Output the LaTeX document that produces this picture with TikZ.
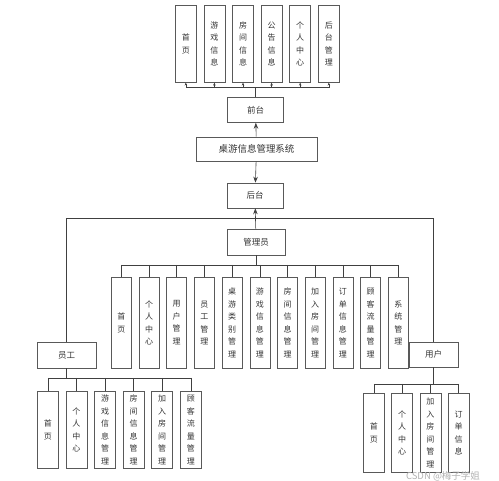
\documentclass[tikz,border=0pt]{standalone}
\usepackage{fontspec}
\newfontfamily\cjk{Noto Sans CJK SC}
\usetikzlibrary{calc, positioning, arrows.meta}

\begin{document}
\begin{tikzpicture}[x=1pt, y=-1pt, >={Stealth[length=6pt, width=4.5pt]}, node distance=7pt,
  box/.style={draw=black!65, line width=0.6pt, inner sep=0pt, text=black!80, font=\cjk\fontsize{8.5}{9}\selectfont},
  vbox/.style={box, minimum width=21pt, minimum height=77pt, align=center, font=\cjk\fontsize{8}{12.5}\selectfont},
  hbox/.style={box, minimum width=56pt, minimum height=25pt},
  link/.style={draw=black!75, line width=0.6pt}]
  \useasboundingbox (0,0) rectangle (499,481);

  % Front end and its pages
  \node[vbox, anchor=north west] (f1) at (175,5) {首\\页};
  \node[vbox, right=of f1] (f2) {游\\戏\\信\\息};
  \node[vbox, right=of f2] (f3) {房\\间\\信\\息};
  \node[vbox, right=of f3] (f4) {公\\告\\信\\息};
  \node[vbox, right=of f4] (f5) {个\\人\\中\\心};
  \node[vbox, right=of f5] (f6) {后\\台\\管\\理};
  \node[hbox] (front) at (255.5,110) {前台};

  % System root
  \node[box, minimum width=121pt, minimum height=24pt, font=\cjk\fontsize{9.5}{11}\selectfont] (sys) at (256.5,149) {桌游信息管理系统};

  % Back end
  \node[hbox] (back) at (255,195.5) {后台};
  \node[hbox, minimum width=58pt, minimum height=26pt] (admin) at (256,242) {管理员};

  % Admin pages
  \node[vbox, minimum width=20pt, minimum height=91pt, anchor=north west] (a1) at (111,277) {首\\页};
  \node[vbox, minimum width=20pt, minimum height=91pt, right=7.1pt of a1] (a2) {个\\人\\中\\心};
  \node[vbox, minimum width=20pt, minimum height=91pt, right=7.1pt of a2] (a3) {用\\户\\管\\理};
  \node[vbox, minimum width=20pt, minimum height=91pt, right=7.1pt of a3] (a4) {员\\工\\管\\理};
  \node[vbox, minimum width=20pt, minimum height=91pt, right=7.1pt of a4] (a5) {桌\\游\\类\\别\\管\\理};
  \node[vbox, minimum width=20pt, minimum height=91pt, right=7.1pt of a5] (a6) {游\\戏\\信\\息\\管\\理};
  \node[vbox, minimum width=20pt, minimum height=91pt, right=7.1pt of a6] (a7) {房\\间\\信\\息\\管\\理};
  \node[vbox, minimum width=20pt, minimum height=91pt, right=7.1pt of a7] (a8) {加\\入\\房\\间\\管\\理};
  \node[vbox, minimum width=20pt, minimum height=91pt, right=7.1pt of a8] (a9) {订\\单\\信\\息\\管\\理};
  \node[vbox, minimum width=20pt, minimum height=91pt, right=7.1pt of a9] (a10) {顾\\客\\流\\量\\管\\理};
  \node[vbox, minimum width=20pt, minimum height=91pt, right=7.1pt of a10] (a11) {系\\统\\管\\理};

  % Staff
  \node[hbox, minimum width=59pt, minimum height=26pt] (staff) at (66.5,355) {员工};
  \node[vbox, anchor=north west] (s1) at (37,391) {首\\页};
  \node[vbox, right=of s1] (s2) {个\\人\\中\\心};
  \node[vbox, right=of s2] (s3) {游\\戏\\信\\息\\管\\理};
  \node[vbox, right=of s3] (s4) {房\\间\\信\\息\\管\\理};
  \node[vbox, right=of s4] (s5) {加\\入\\房\\间\\管\\理};
  \node[vbox, right=of s5] (s6) {顾\\客\\流\\量\\管\\理};

  % User
  \node[hbox, minimum width=49pt] (user) at (433.5,354.5) {用户};
  \node[vbox, minimum height=79pt, anchor=north west] (u1) at (363,393) {首\\页};
  \node[vbox, minimum height=79pt, right=6.7pt of u1] (u2) {个\\人\\中\\心};
  \node[vbox, minimum height=79pt, right=6.7pt of u2] (u3) {加\\入\\房\\间\\管\\理};
  \node[vbox, minimum height=79pt, right=6.7pt of u3] (u4) {订\\单\\信\\息};

  % Bus coordinates
  \coordinate (fbus) at ($(f1.south)+(0,5)$);
  \coordinate (hub) at ($(back.south)+(0,10)$);
  \coordinate (abus) at ($(a1.north)+(0,-12)$);
  \coordinate (sbus) at ($(s1.north)+(0,-13)$);
  \coordinate (ubus) at ($(u1.north)+(0,-9)$);

  % Connections
  \draw[link, ->] (sys) -- (front);
  \draw[link, ->] (sys) -- (back);
  \draw[link, ->] (admin) -- (back);
  \draw[link] (staff.north) |- (hub) -| (user.north);

  \draw[link] (front.north) -- (front.north |- fbus);
  \draw[link] (f1 |- fbus) -- (f6 |- fbus);
  \foreach \n in {f1,f2,f3,f4,f5,f6}
    \draw[link, -{Stealth[length=3pt, width=2.5pt]}] (\n |- fbus) -- (\n.south);

  \draw[link] (admin.south) -- (admin.south |- abus);
  \draw[link] (a1 |- abus) -- (a11 |- abus);
  \foreach \n in {a1,a2,a3,a4,a5,a6,a7,a8,a9,a10,a11}
    \draw[link] (\n |- abus) -- (\n.north);

  \draw[link] (staff.south) -- (staff.south |- sbus);
  \draw[link] (s1 |- sbus) -- (s6 |- sbus);
  \foreach \n in {s1,s2,s3,s4,s5,s6}
    \draw[link] (\n |- sbus) -- (\n.north);

  \draw[link] (user.south) -- (user.south |- ubus);
  \draw[link] (u1 |- ubus) -- (u4 |- ubus);
  \foreach \n in {u1,u2,u3,u4}
    \draw[link] (\n |- ubus) -- (\n.north);

  % Watermark
  \node[text=black!30, font=\cjk\fontsize{9.5}{10}\selectfont] (mark) at (443,476) {CSDN @梅子学姐};
\end{tikzpicture}
\end{document}
